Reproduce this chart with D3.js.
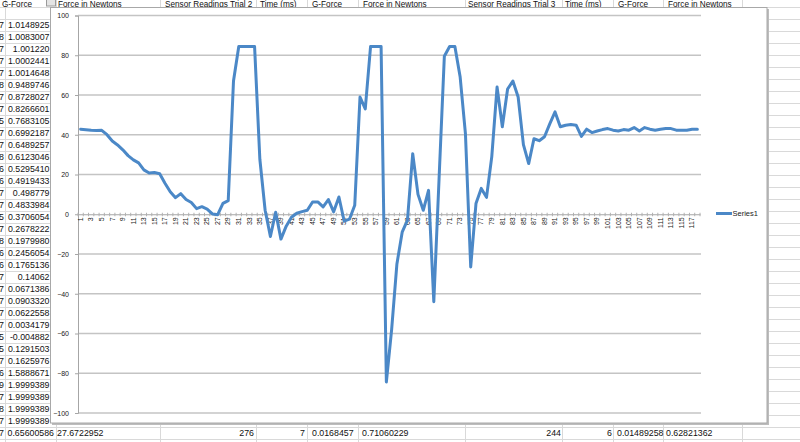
<!DOCTYPE html>
<html><head><meta charset="utf-8">
<script src="https://cdn.jsdelivr.net/npm/d3@7"></script>
<style>body{margin:0;background:#fff}svg{display:block}</style>
</head><body>
<svg id="c" width="800" height="442"></svg>
<script>
// ---- data ----
const categories = d3.range(1, 119);
const series1 = [
 42.811, 42.533, 42.234, 42.193, 42.245, 40.031, 36.817, 34.871, 32.410, 29.495,
 27.374, 25.829, 22.338, 20.752, 21.040, 20.391, 15.633, 11.298, 8.352, 10.360,
 7.446, 5.932, 2.832, 3.810, 2.626, 0.144, -0.206, 5.448, 6.859, 67.023,
 84.363, 84.363, 84.363, 84.363, 27.672, 2, -11.2, 1, -12.5, -6,
 -1.5, 0.5, 1.3, 2, 6.2, 6.2, 3.7, 7.4, 1.2, 8.7,
 -3.5, -2.5, 4.5, 59, 53, 84.4, 84.4, 84.4, -84.4, -58,
 -25, -9, -3, 30.5, 10, 2, 12, -44, 18, 79.5,
 84.4, 84.4, 69, 40.6, -26.5, 5.4, 13, 8.5, 29, 64,
 44, 63, 67, 59, 35, 25.5, 38, 37, 39, 45.5,
 51.5, 44, 44.8, 45.1, 44.8, 39.2, 42.8, 41.1, 41.9, 42.6,
 43.1, 42.3, 41.9, 42.6, 42.3, 43.6, 41.9, 43.6, 42.8, 42.3,
 42.8, 43.1, 43.1, 42.3, 42.3, 42.3, 42.8, 42.8
];
const yTicks = [-100, -80, -60, -40, -20, 0, 20, 40, 60, 80, 100];
const seriesName = "Series1";

// spreadsheet background content
const headers = ["G-Force", "Force in Newtons", "Sensor Readings Trial 2", "Time (ms)", "G-Force",
  "Force in Newtons", "Sensor Readings Trial 3", "Time (ms)", "G-Force", "Force in Newtons"];
const headerX = [2, 58, 165, 260, 312, 363, 468, 565, 618, 668];
const colLines = [5, 56, 160, 256, 307, 358, 465, 562, 613, 663, 742];
const gForceCol = ["1.0148925","1.0083007","1.001220","1.0002441","1.0014648","0.9489746","0.8728027",
  "0.8266601","0.7683105","0.6992187","0.6489257","0.6123046","0.5295410","0.4919433","0.498779",
  "0.4833984","0.3706054","0.2678222","0.1979980","0.2456054","0.1765136","0.14062","0.0671386",
  "0.0903320","0.0622558","0.0034179","-0.004882","0.1291503","0.1625976","1.5888671","1.9999389",
  "1.9999389","1.9999389","1.9999389"];
const prevColDigits = ["7","8","7","7","7","8","7","7","5","7","7","8","6","6","7","7","5","7","8",
  "6","6","7","7","7","7","7","5","5","7","6","9","7","8","7","7"];
const bottomRow = [
  {t:"0.65600586", x:54, a:"end"}, {t:"27.6722952", x:57, a:"start"},
  {t:"276", x:254, a:"end"}, {t:"7", x:305, a:"end"}, {t:"0.0168457", x:312, a:"start"},
  {t:"0.71060229", x:362, a:"start"}, {t:"244", x:561, a:"end"}, {t:"6", x:612, a:"end"},
  {t:"0.01489258", x:617, a:"start"}, {t:"0.62821362", x:666, a:"start"}
];

const svg = d3.select("#c");
const F = "'Liberation Sans', Arial, sans-serif";

// ---- spreadsheet ----
const sheet = svg.append("g");
const rowYs = d3.range(7, 442, 12);
sheet.selectAll("line.r").data(rowYs).join("line")
  .attr("x1", 0).attr("x2", 800).attr("y1", d => d + 0.5).attr("y2", d => d + 0.5)
  .attr("stroke", "#d9d9d9");
sheet.selectAll("line.c").data(colLines).join("line")
  .attr("x1", d => d + 0.5).attr("x2", d => d + 0.5).attr("y1", 0).attr("y2", 442)
  .attr("stroke", "#d9d9d9");
sheet.selectAll("text.h").data(headers).join("text")
  .attr("x", (d, i) => headerX[i]).attr("y", 6.6)
  .attr("font-family", F).attr("font-size", 8.2).attr("fill", "#111").text(d => d);
sheet.append("rect").attr("x", 46.5).attr("y", -2).attr("width", 9).attr("height", 8)
  .attr("fill", "#e4e4e4").attr("stroke", "#9a9a9a");
sheet.selectAll("text.g").data(gForceCol).join("text")
  .attr("x", 49.5).attr("y", (d, i) => 28.3 + i * 12).attr("text-anchor", "end")
  .attr("font-family", F).attr("font-size", 8.8).attr("fill", "#111").text(d => d);
sheet.selectAll("text.p").data(prevColDigits).join("text")
  .attr("x", 4).attr("y", (d, i) => 28.3 + i * 12).attr("text-anchor", "end")
  .attr("font-family", F).attr("font-size", 8.8).attr("fill", "#111").text(d => d);
sheet.selectAll("text.b").data(bottomRow).join("text")
  .attr("x", d => d.x).attr("y", 436.3).attr("text-anchor", d => d.a)
  .attr("font-family", F).attr("font-size", 8.8).attr("fill", "#111").text(d => d.t);

// ---- chart box ----
svg.append("rect").attr("x", 52).attr("y", 9).attr("width", 717).attr("height", 416).attr("fill", "#bdbdbd");
svg.append("rect").attr("x", 50.5).attr("y", 7.5).attr("width", 716.5).attr("height", 415.5)
  .attr("fill", "#fff").attr("stroke", "#a8a8a8");

const x = d3.scaleBand().domain(categories).range([78, 700]).padding(0);
const y = d3.scaleLinear().domain([-100, 100]).range([413, 15.5]);

// gridlines
svg.append("g").selectAll("line").data(yTicks.filter(d => d !== 0)).join("line")
  .attr("x1", 78).attr("x2", 701).attr("y1", d => y(d)).attr("y2", d => y(d))
  .attr("stroke", "#c4c4c4").attr("stroke-width", 1.3);

// y axis
const yAxis = svg.append("g").attr("transform", "translate(78,0)")
  .call(d3.axisLeft(y).tickValues(yTicks).tickSize(3).tickPadding(6).tickFormat(d3.format("d")));
yAxis.select(".domain").attr("stroke", "#a6a6a6");
yAxis.selectAll(".tick line").attr("stroke", "#a6a6a6");
yAxis.selectAll("text").attr("font-family", F).attr("font-size", 7).attr("fill", "#222");

// x axis at zero
const xAxis = svg.append("g").attr("transform", `translate(0,${y(0)})`)
  .call(d3.axisBottom(x).tickValues(categories.filter(d => d % 2 === 1)).tickSize(0).tickPadding(0));
xAxis.select(".domain").attr("stroke", "#a6a6a6").attr("stroke-width", 1.2);
xAxis.selectAll("text")
  .attr("font-family", F).attr("font-size", 7).attr("fill", "#222")
  .attr("text-anchor", "end").attr("dy", "0.32em")
  .attr("transform", "translate(0,3) rotate(-90)").attr("x", 0).attr("y", 0);
// minor tick marks at category boundaries
svg.append("g").selectAll("line").data(d3.range(0, categories.length + 1)).join("line")
  .attr("x1", d => 78 + d * x.bandwidth()).attr("x2", d => 78 + d * x.bandwidth())
  .attr("y1", y(0) - 1.5).attr("y2", y(0) + 2)
  .attr("stroke", "#b0b0b0").attr("stroke-width", 1);

// series line
const line = d3.line().x((d, i) => x(categories[i]) + x.bandwidth() / 2).y(d => y(d));
svg.append("path").datum(series1).attr("d", line)
  .attr("fill", "none").attr("stroke", "#4b88c7").attr("stroke-width", 3)
  .attr("stroke-linejoin", "round").attr("stroke-linecap", "round");

// legend
svg.append("line").attr("x1", 716).attr("x2", 732).attr("y1", 213.5).attr("y2", 213.5)
  .attr("stroke", "#4b88c7").attr("stroke-width", 3);
svg.append("text").attr("x", 732.5).attr("y", 216).attr("font-family", F).attr("font-size", 7.5)
  .attr("fill", "#222").text(seriesName);
</script>
</body></html>
